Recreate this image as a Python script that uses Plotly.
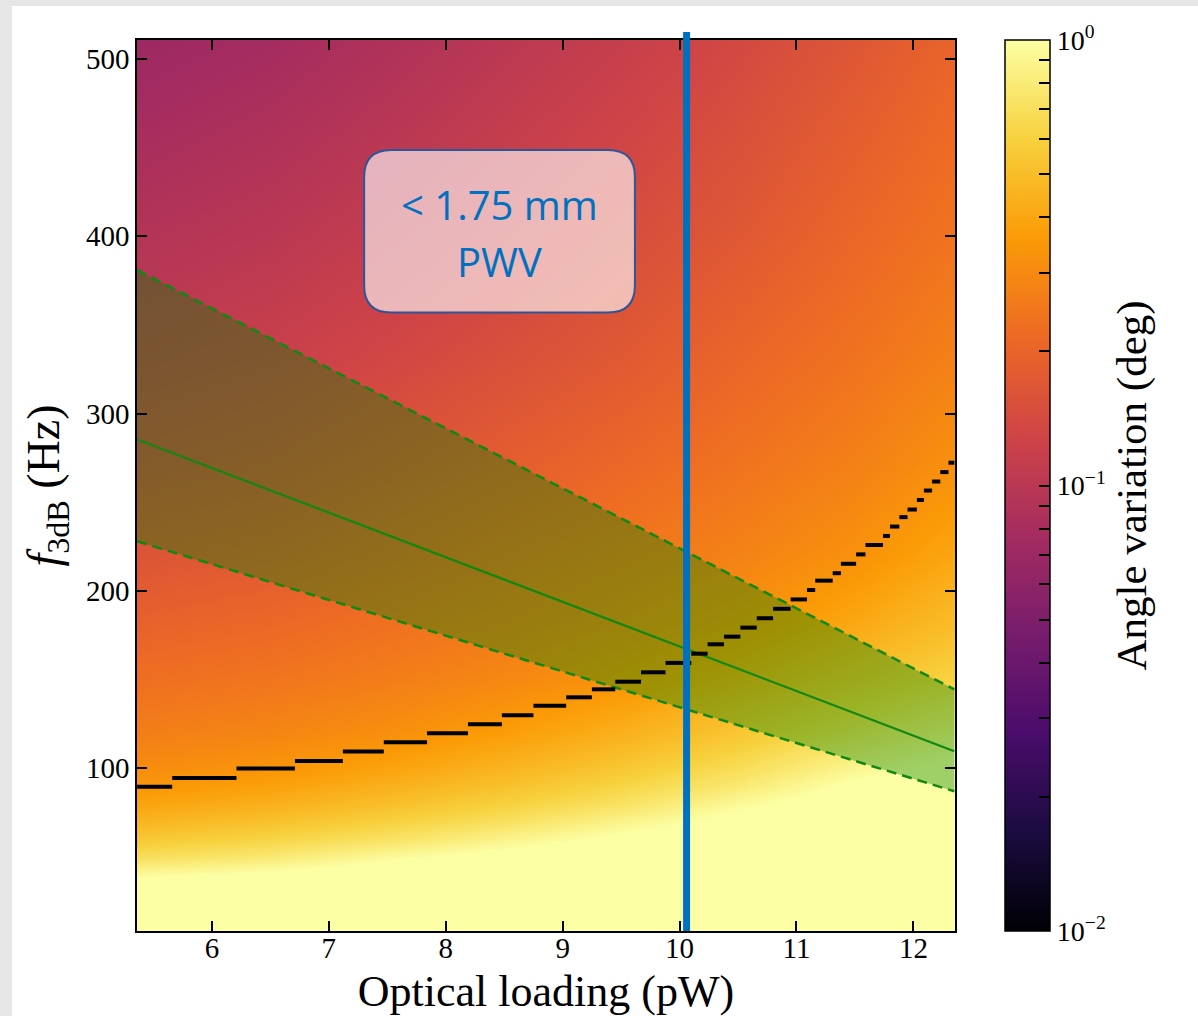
import numpy as np
import plotly.graph_objects as go

# ---------------- data ----------------
# heatmap grid (optical loading pW, f3dB Hz) and angle variation (deg)
x_cols = [5.36, 6.5, 7.5, 8.5, 9.5, 10.5, 11.5, 12.35]
y_rows = [8, 30, 40, 50, 60, 70, 80, 90, 100, 120, 150, 180, 220, 270, 330, 400, 511]
angle_deg = [
    [1.58, 1.58, 1.58, 1.58, 1.58, 1.58, 1.58, 1.58],
    [1.24, 1.32, 1.43, 1.54, 1.58, 1.58, 1.58, 1.58],
    [0.955, 1.05, 1.17, 1.30, 1.43, 1.58, 1.58, 1.58],
    [0.692, 0.783, 0.944, 1.09, 1.23, 1.39, 1.58, 1.58],
    [0.550, 0.624, 0.723, 0.877, 1.05, 1.23, 1.42, 1.58],
    [0.457, 0.514, 0.596, 0.705, 0.874, 1.08, 1.28, 1.47],
    [0.389, 0.438, 0.506, 0.598, 0.721, 0.941, 1.16, 1.35],
    [0.339, 0.380, 0.438, 0.516, 0.624, 0.783, 1.05, 1.20],
    [0.309, 0.336, 0.386, 0.454, 0.543, 0.684, 0.900, 1.05],
    [0.267, 0.288, 0.318, 0.366, 0.438, 0.543, 0.690, 0.850],
    [0.229, 0.244, 0.265, 0.296, 0.336, 0.410, 0.515, 0.620],
    [0.196, 0.212, 0.234, 0.256, 0.288, 0.330, 0.410, 0.500],
    [0.162, 0.174, 0.197, 0.223, 0.247, 0.278, 0.325, 0.400],
    [0.133, 0.144, 0.162, 0.184, 0.210, 0.240, 0.275, 0.325],
    [0.110, 0.119, 0.134, 0.152, 0.173, 0.205, 0.238, 0.275],
    [0.092, 0.100, 0.112, 0.127, 0.146, 0.170, 0.207, 0.240],
    [0.070, 0.077, 0.087, 0.100, 0.115, 0.137, 0.166, 0.200],
]

# green band: f3dB vs loading (centre, upper, lower)
band_x = [5.36, 6, 7, 8, 9, 10, 11, 12, 12.35]
band_mid = [285.4, 269.3, 244.2, 219.0, 193.9, 168.7, 143.6, 118.4, 109.6]
band_hi = [381.0, 359.4, 325.5, 291.7, 257.9, 224.0, 190.2, 156.3, 144.5]
band_lo = [228.0, 215.1, 194.9, 174.7, 154.6, 134.4, 114.2, 94.1, 87.0]

# black staircase contour
step_edges = [5.36, 5.66, 6.21, 6.71, 7.12, 7.47, 7.84, 8.19, 8.48, 8.75, 9.03,
              9.25, 9.45, 9.67, 9.88, 10.10, 10.24, 10.38, 10.52, 10.66, 10.80,
              10.95, 11.09, 11.16, 11.31, 11.38, 11.51, 11.59, 11.74, 11.80,
              11.88, 11.95, 12.03, 12.09, 12.16, 12.23, 12.30, 12.35]
step_levels = [89.5, 94.5, 99.8, 104.1, 109.4, 114.6, 119.7, 124.8, 129.9, 135.2,
               140.0, 144.5, 148.8, 154.1, 159.4, 164.6, 169.9, 174.2, 179.3,
               184.6, 189.9, 195.2, 200.5, 205.8, 210.0, 215.3, 220.6, 225.9,
               231.0, 236.3, 241.6, 245.9, 251.3, 256.6, 261.7, 267.0, 272.3]

pwv_loading = 10.06
x_ticks = [6, 7, 8, 9, 10, 11, 12]
y_ticks = [100, 200, 300, 400, 500]
x_range = [5.359, 12.356]
y_range = [8.2, 510.7]

# ---------------- figure ----------------
W, H = 1198, 1016
ML, MR, MT, MB = 137, 243, 40, 85
PW, PH = W - ML - MR, H - MT - MB

SERIF = "Liberation Serif"

cb_vals = []
cb_text = []
for dec in (-2, -1):
    for m in range(1, 10):
        cb_vals.append(dec + np.log10(m))
        cb_text.append("10<sup>\u2212%d</sup>" % (-dec) if m == 1 else "")
cb_vals.append(0.0)
cb_text.append("10<sup>0</sup>")

fig = go.Figure()

fig.add_trace(go.Heatmap(
    x=x_cols, y=y_rows, z=np.log10(np.array(angle_deg)),
    colorscale="Inferno", zmin=-2, zmax=0, zsmooth="best",
    hoverinfo="skip",
    colorbar=dict(
        x=(1005 - ML) / PW, xanchor="left", xpad=0, ypad=0,
        y=0.5, yanchor="middle", len=1, lenmode="fraction",
        thickness=45, outlinecolor="black", outlinewidth=1.5,
        tickmode="array", tickvals=cb_vals, ticktext=cb_text,
        ticks="inside", ticklen=11, tickwidth=1.5, tickcolor="black",
        tickfont=dict(family=SERIF, size=28, color="black"),
        title=dict(text="Angle variation (deg)", side="right",
                   font=dict(family=SERIF, size=43, color="black")),
    ),
))

# band fill
fig.add_trace(go.Scatter(x=band_x, y=band_lo, mode="lines",
                         line=dict(width=0), showlegend=False, hoverinfo="skip"))
fig.add_trace(go.Scatter(x=band_x, y=band_hi, mode="lines", fill="tonexty",
                         fillcolor="rgba(0,128,0,0.37)", line=dict(width=0),
                         showlegend=False, hoverinfo="skip"))
for yy in (band_hi, band_lo):
    fig.add_trace(go.Scatter(x=band_x, y=yy, mode="lines",
                             line=dict(color="#118811", width=2.5, dash="10px,6px"),
                             showlegend=False, hoverinfo="skip"))
fig.add_trace(go.Scatter(x=band_x, y=band_mid, mode="lines",
                         line=dict(color="#118811", width=2.2),
                         showlegend=False, hoverinfo="skip"))

# staircase
sx, sy = [], []
for i, lv in enumerate(step_levels):
    sx += [step_edges[i], step_edges[i + 1], None]
    sy += [lv, lv, None]
fig.add_trace(go.Scatter(x=sx, y=sy, mode="lines",
                         line=dict(color="black", width=4),
                         showlegend=False, hoverinfo="skip"))

# page border (grey strips on top and left)
def px_x(p):
    return (p - ML) / PW

def px_y(p):
    return (H - MB - p) / PH

shapes = [
    dict(type="rect", xref="paper", yref="paper", x0=px_x(0), x1=px_x(12),
         y0=px_y(H), y1=px_y(0), fillcolor="#e6e6e6", line=dict(width=0), layer="below"),
    dict(type="rect", xref="paper", yref="paper", x0=px_x(0), x1=px_x(W),
         y0=px_y(6), y1=px_y(0), fillcolor="#e6e6e6", line=dict(width=0), layer="below"),
    dict(type="line", xref="x", yref="paper", x0=pwv_loading, x1=pwv_loading,
         y0=0, y1=px_y(32), line=dict(color="#0070C0", width=7)),
]

# rounded annotation box
bx0, bx1, by0, by1 = 7.302, 9.618, 357.0, 448.7
rx, ry = 27 / 117.0, 27 / 1.773
path = (f"M {bx0+rx},{by1} L {bx1-rx},{by1} Q {bx1},{by1} {bx1},{by1-ry} "
        f"L {bx1},{by0+ry} Q {bx1},{by0} {bx1-rx},{by0} "
        f"L {bx0+rx},{by0} Q {bx0},{by0} {bx0},{by0+ry} "
        f"L {bx0},{by1-ry} Q {bx0},{by1} {bx0+rx},{by1} Z")
shapes.append(dict(type="path", xref="x", yref="y", path=path,
                   fillcolor="rgba(255,255,255,0.62)",
                   line=dict(color="#2F5597", width=2)))

fig.update_layout(
    width=W, height=H,
    margin=dict(l=ML, r=MR, t=MT, b=MB, autoexpand=False),
    paper_bgcolor="white", plot_bgcolor="white",
    font=dict(family=SERIF, color="black"),
    shapes=shapes,
    showlegend=False,
    annotations=[
        dict(x=8.456, y=417.7, xref="x", yref="y", text="< 1.75 mm", showarrow=False,
             font=dict(family="Open Sans", size=40, color="#0070C0")),
        dict(x=8.456, y=385.6, xref="x", yref="y", text="PWV", showarrow=False,
             font=dict(family="Open Sans", size=40, color="#0070C0")),
    ],
)

fig.update_xaxes(range=x_range, tickvals=x_ticks, ticks="inside", ticklen=10,
                 tickwidth=1.5, tickcolor="black", showline=True, linecolor="black",
                 linewidth=1.5, mirror="ticks", showgrid=False, zeroline=False,
                 automargin=False, ticklabelstandoff=-10,
                 tickfont=dict(family=SERIF, size=29, color="black"),
                 title=dict(text="Optical loading (pW)", standoff=16,
                            font=dict(family=SERIF, size=44, color="black")))
fig.update_yaxes(range=y_range, tickvals=y_ticks, ticks="inside", ticklen=10,
                 tickwidth=1.5, tickcolor="black", showline=True, linecolor="black",
                 linewidth=1.5, mirror="ticks", showgrid=False, zeroline=False,
                 automargin=False,
                 tickfont=dict(family=SERIF, size=29, color="black"),
                 title=dict(text="<i>f</i><sub>3dB</sub> (Hz)", standoff=12,
                            font=dict(family=SERIF, size=46, color="black")))

fig.write_html("out.html")
